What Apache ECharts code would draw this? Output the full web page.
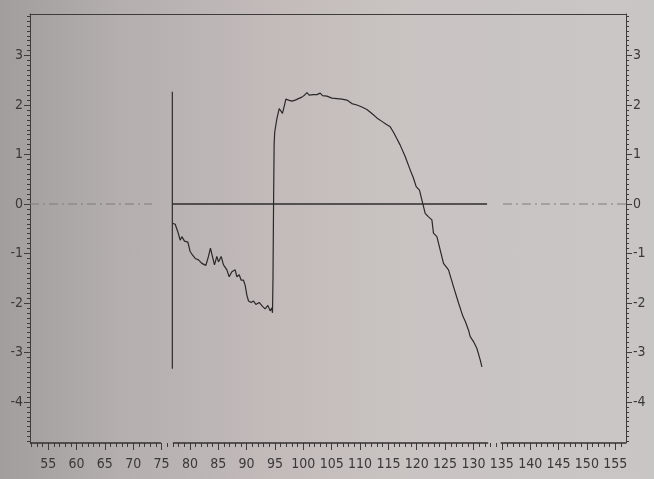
<!DOCTYPE html>
<html>
<head>
<meta charset="utf-8">
<script src="https://cdn.jsdelivr.net/npm/echarts@6/dist/echarts.min.js"></script>
<style>
html,body{margin:0;padding:0;}
#c{width:654px;height:479px;background:linear-gradient(90deg,#a29e9e 0%,#b4aeae 18%,#c2bbba 42%,#c9c3c2 62%,#c8c6c5 100%);}
</style>
</head>
<body>
<div id="c"></div>
<script>
// ---- data ----
const xTickLabels = [55,60,65,70,75,80,85,90,95,100,105,110,115,120,125,130,135,140,145,150,155];
const xMinorTicks = [52,53,54,56,57,58,59,61,62,63,64,66,67,68,69,71,72,73,74,76,77,78,79,81,82,83,84,86,87,88,89,91,92,93,94,96,97,98,99,101,102,103,104,106,107,108,109,111,112,113,114,116,117,118,119,121,122,123,124,126,127,128,129,131,132,133,134,136,137,138,139,141,142,143,144,146,147,148,149,151,152,153,154,156];
const yTickLabels = [-4,-3,-2,-1,0,1,2,3];
const yMinorTicks = [-4.8,-4.7,-4.6,-4.5,-4.4,-4.3,-4.2,-4.1,-3.9,-3.8,-3.7,-3.6,-3.5,-3.4,-3.3,-3.2,-3.1,-2.9,-2.8,-2.7,-2.6,-2.5,-2.4,-2.3,-2.2,-2.1,-1.9,-1.8,-1.7,-1.6,-1.5,-1.4,-1.3,-1.2,-1.1,-0.9,-0.8,-0.7,-0.6,-0.5,-0.4,-0.3,-0.2,-0.1,0.1,0.2,0.3,0.4,0.5,0.6,0.7,0.8,0.9,1.1,1.2,1.3,1.4,1.5,1.6,1.7,1.8,1.9,2.1,2.2,2.3,2.4,2.5,2.6,2.7,2.8,2.9,3.1,3.2,3.3,3.4,3.5,3.6,3.7,3.8];
const traceX = [76.92,77.40,77.87,78.28,78.58,79.04,79.64,80.04,80.45,80.93,81.51,82.11,82.81,83.27,83.62,84.05,84.33,84.75,85.04,85.51,85.92,86.52,86.92,87.40,87.98,88.28,88.69,89.04,89.44,89.74,90.04,90.33,90.80,91.21,91.63,92.21,92.80,93.27,93.75,94.15,94.45,94.56,94.65,94.75,94.85,94.95,95.33,95.74,96.09,96.32,96.68,96.92,97.38,97.98,98.56,99.15,99.74,100.20,100.63,101.03,101.79,102.39,102.97,103.38,104.15,105.04,105.92,106.80,107.68,108.56,109.44,110.33,111.21,112.09,112.97,113.85,114.74,115.32,115.90,116.20,116.50,117.08,117.96,118.84,119.43,119.90,120.48,120.91,121.49,122.07,122.67,122.95,123.55,124.14,124.72,125.60,126.48,127.37,128.14,128.55,129.13,129.43,130.01,130.61,131.19,131.49];
const traceY = [-0.39,-0.41,-0.56,-0.73,-0.66,-0.75,-0.77,-0.96,-1.03,-1.10,-1.13,-1.20,-1.24,-1.06,-0.89,-1.10,-1.23,-1.06,-1.17,-1.06,-1.23,-1.33,-1.47,-1.37,-1.33,-1.47,-1.43,-1.54,-1.54,-1.64,-1.84,-1.96,-1.99,-1.96,-2.03,-1.99,-2.07,-2.12,-2.05,-2.16,-2.10,-2.20,-1.50,0.00,1.20,1.45,1.72,1.93,1.96,1.83,2.00,2.12,2.10,2.08,2.10,2.13,2.16,2.20,2.25,2.20,2.21,2.21,2.24,2.19,2.18,2.14,2.13,2.12,2.10,2.03,2.00,1.96,1.91,1.83,1.74,1.67,1.60,1.56,1.45,1.43,1.32,1.19,0.96,0.69,0.52,0.35,0.28,0.08,-0.19,-0.26,-0.32,-0.59,-0.66,-0.93,-1.20,-1.33,-1.67,-2.00,-2.27,-2.37,-2.55,-2.68,-2.78,-2.92,-3.15,-3.29];
const markerX = 76.9;          // vertical marker line
const markerY = [2.27, -3.33];
const baseSolid = [76.9, 132.4];   // solid zero line
const baseDashL = [51.8, 73.3];    // dash-dot zero line, left
const baseDashR = [135.2, 156.9];  // dash-dot zero line, right
const axisSegs = [[51.8, 74.9], [77.0, 132.6], [134.8, 156.9]]; // broken bottom axis
const X_MIN = 51.8, X_MAX = 156.9, Y_MIN = -4.83, Y_MAX = 3.84;

const FONT = "'DejaVu Sans Condensed','Liberation Sans',sans-serif";
const AX = '#3e3b3b';
const chart = echarts.init(document.getElementById('c'), null, {renderer:'canvas'});

function xAx(extra){ return Object.assign({type:'value',min:X_MIN,max:X_MAX,splitLine:{show:false},axisTick:{show:false},axisLabel:{show:false}}, extra); }
function yAx(extra){ return Object.assign({type:'value',min:Y_MIN,max:Y_MAX,splitLine:{show:false},axisTick:{show:false},axisLabel:{show:false}}, extra); }
const noLine = {show:false,onZero:false};

const option = {
  animation:false,
  grid:{left:30,right:28,top:14,bottom:36,show:false},
  xAxis:[
    xAx({position:'bottom',axisLine:noLine,
      axisTick:{show:true,inside:false,length:7,customValues:xTickLabels,lineStyle:{color:AX,width:1}},
      axisLabel:{show:true,customValues:xTickLabels,margin:14,fontSize:14,color:'#3a3838',fontFamily:FONT}}),
    xAx({position:'bottom',axisLine:noLine,
      axisTick:{show:true,inside:false,length:4,customValues:xMinorTicks,lineStyle:{color:AX,width:1}}}),
    xAx({position:'top',axisLine:{show:true,onZero:false,lineStyle:{color:AX,width:1.2}}})
  ],
  yAxis:[
    yAx({position:'left',axisLine:{show:true,onZero:false,lineStyle:{color:AX,width:1}},
      axisTick:{show:true,length:6,customValues:yTickLabels,lineStyle:{color:AX}},
      axisLabel:{show:true,customValues:yTickLabels,margin:7,fontSize:14,color:'#3a3838',fontFamily:FONT}}),
    yAx({position:'left',axisLine:noLine,axisTick:{show:true,length:3,customValues:yMinorTicks,lineStyle:{color:AX}}}),
    yAx({position:'right',axisLine:{show:true,onZero:false,lineStyle:{color:AX,width:1}},
      axisTick:{show:true,length:6,customValues:yTickLabels,lineStyle:{color:AX}},
      axisLabel:{show:true,customValues:yTickLabels,margin:7,fontSize:14,color:'#3a3838',fontFamily:FONT}}),
    yAx({position:'right',axisLine:noLine,axisTick:{show:true,length:3,customValues:yMinorTicks,lineStyle:{color:AX}}})
  ],
  series:[
    {type:'line',name:'axis',clip:false,silent:true,symbol:'none',
     lineStyle:{color:'#333030',width:1.3},
     data:[[axisSegs[0][0],Y_MIN],[axisSegs[0][1],Y_MIN],['-','-'],[axisSegs[1][0],Y_MIN],[axisSegs[1][1],Y_MIN],['-','-'],[axisSegs[2][0],Y_MIN],[axisSegs[2][1],Y_MIN]],
     connectNulls:false},
    {type:'line',name:'dashL',silent:true,symbol:'none',
     lineStyle:{color:'#807c7c',width:1.2,type:[9,4,2,4]},
     data:[[baseDashL[0],0],[baseDashL[1],0]]},
    {type:'line',name:'dashR',silent:true,symbol:'none',
     lineStyle:{color:'#807c7c',width:1.2,type:[9,4,2,4]},
     data:[[baseDashR[0],0],[baseDashR[1],0]]},
    {type:'line',name:'base',silent:true,symbol:'none',
     lineStyle:{color:'#2f2c2c',width:1.6},
     data:[[baseSolid[0],0],[baseSolid[1],0]]},
    {type:'line',name:'marker',silent:true,symbol:'none',
     lineStyle:{color:'#2f2c2c',width:1.2},
     data:[[markerX,markerY[0]],[markerX,markerY[1]]]},
    {type:'line',name:'trace',silent:true,symbol:'none',
     lineStyle:{color:'#2b2828',width:1.2},
     data:traceX.map((x,i)=>[x,traceY[i]])}
  ]
};
chart.setOption(option);
</script>
</body>
</html>
